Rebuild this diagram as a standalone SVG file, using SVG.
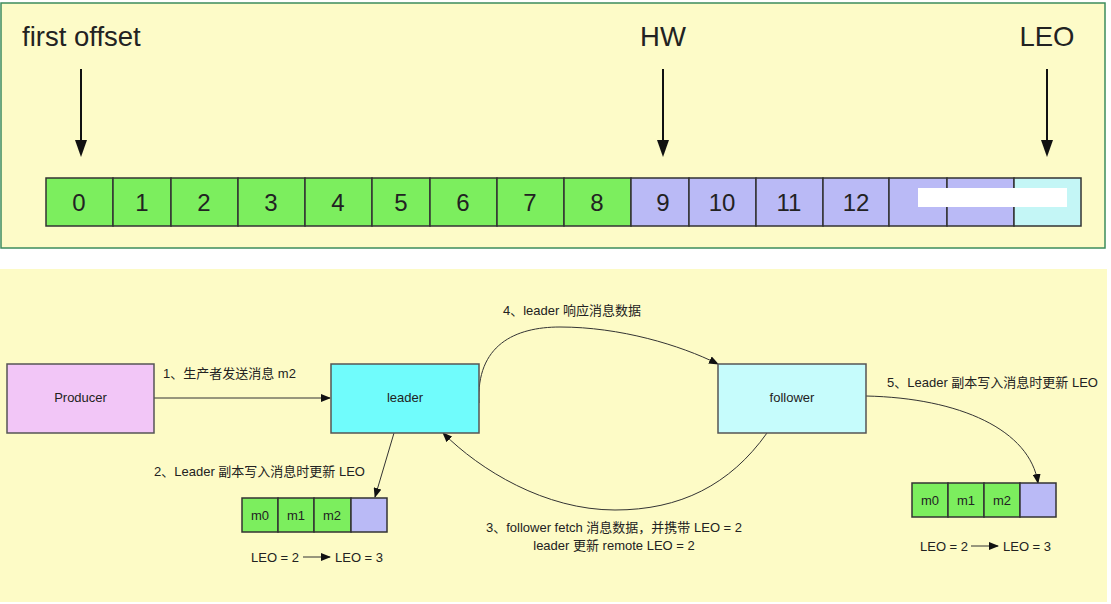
<svg xmlns="http://www.w3.org/2000/svg" width="1111" height="604" viewBox="0 0 1111 604">
<defs>
<style>
.big{font-family:"Liberation Sans",Arial,sans-serif;fill:#222;}
.lbl{font-family:"Liberation Sans","Noto Sans CJK SC",sans-serif;font-size:13px;fill:#222;}
.cell{stroke:#333;stroke-width:1.5;}
.g{fill:#7cee5e;}
.p{fill:#babaf6;}
.c{fill:#c4f6f6;}
.node{stroke:#555;stroke-width:1.5;}
.conn{fill:none;stroke:#333;stroke-width:1;}
.bigarrow{stroke:#111;stroke-width:2;}
</style>
<marker id="ah" markerWidth="10" markerHeight="8" refX="9" refY="4" orient="auto" markerUnits="userSpaceOnUse">
<path d="M0,0 L10,4 L0,8 Z" fill="#111"/>
</marker>
</defs>
<rect width="1111" height="604" fill="#ffffff"/>
<g id="panel-top">
<rect x="1" y="3" width="1104" height="245" fill="#fdfbc8" stroke="#3d8c5c" stroke-width="1.5"/>
<text class="big" x="22" y="46" font-size="27.5">first offset</text>
<text class="big" x="663" y="46" font-size="27.5" text-anchor="middle">HW</text>
<text class="big" x="1047" y="46" font-size="27.5" text-anchor="middle">LEO</text>
<line class="bigarrow" x1="81" y1="69" x2="81" y2="142"/>
<path d="M75,140 L87,140 L81,157 Z" fill="#111"/>
<line class="bigarrow" x1="663" y1="69" x2="663" y2="142"/>
<path d="M657,140 L669,140 L663,157 Z" fill="#111"/>
<line class="bigarrow" x1="1047" y1="69" x2="1047" y2="142"/>
<path d="M1041,140 L1053,140 L1047,157 Z" fill="#111"/>
</g>
<g id="log-cells">
<rect class="cell g" x="46" y="178" width="67" height="48"/>
<rect class="cell g" x="113" y="178" width="58" height="48"/>
<rect class="cell g" x="171" y="178" width="67" height="48"/>
<rect class="cell g" x="238" y="178" width="67" height="48"/>
<rect class="cell g" x="305" y="178" width="67" height="48"/>
<rect class="cell g" x="372" y="178" width="58" height="48"/>
<rect class="cell g" x="430" y="178" width="67" height="48"/>
<rect class="cell g" x="497" y="178" width="67" height="48"/>
<rect class="cell g" x="564" y="178" width="67" height="48"/>
<rect class="cell p" x="631" y="178" width="58" height="48"/>
<rect class="cell p" x="689" y="178" width="67" height="48"/>
<rect class="cell p" x="756" y="178" width="67" height="48"/>
<rect class="cell p" x="823" y="178" width="66" height="48"/>
<rect class="cell p" x="889" y="178" width="58" height="48"/>
<rect class="cell p" x="947" y="178" width="67" height="48"/>
<rect class="cell c" x="1014" y="178" width="67" height="48"/>
<g class="big" font-size="24" text-anchor="middle">
<text x="79" y="211">0</text>
<text x="142" y="211">1</text>
<text x="204" y="211">2</text>
<text x="271" y="211">3</text>
<text x="338" y="211">4</text>
<text x="401" y="211">5</text>
<text x="463" y="211">6</text>
<text x="530" y="211">7</text>
<text x="597" y="211">8</text>
<text x="663" y="211">9</text>
<text x="722" y="211">10</text>
<text x="789" y="211">11</text>
<text x="856" y="211">12</text>
</g>
<rect x="918" y="188" width="149" height="19" fill="#ffffff"/>
</g>
<rect x="0" y="269" width="1107" height="333" fill="#fdfbc6"/>
<g id="connectors">
<line class="conn" x1="154" y1="398" x2="330" y2="398" marker-end="url(#ah)"/>
<line class="conn" x1="394" y1="433" x2="375" y2="497" marker-end="url(#ah)"/>
<path class="conn" d="M479,403 C476,345 515,327 560,327 C620,327 680,345 718,364" marker-end="url(#ah)"/>
<path class="conn" d="M767,433 C730,485 680,510 615,510 C545,510 480,470 443,433" marker-end="url(#ah)"/>
<path class="conn" d="M866,396 C960,398 1030,430 1038,483" marker-end="url(#ah)"/>
<line class="conn" x1="303" y1="557" x2="330" y2="557" marker-end="url(#ah)"/>
<line class="conn" x1="971" y1="546" x2="998" y2="546" marker-end="url(#ah)"/>
</g>
<g id="producer">
<rect class="node" x="7" y="364" width="147" height="69" fill="#f2c6f7"/>
<text class="lbl" x="80.5" y="402" text-anchor="middle">Producer</text>
</g>
<g id="leader">
<rect class="node" x="331" y="364" width="148" height="69" fill="#70fcfc"/>
<text class="lbl" x="405" y="402" text-anchor="middle">leader</text>
</g>
<g id="follower">
<rect class="node" x="718" y="364" width="148" height="69" fill="#c6fcfc"/>
<text class="lbl" x="792" y="402" text-anchor="middle">follower</text>
</g>
<g id="leader-log">
<rect class="cell g" x="242" y="498" width="36" height="34"/>
<rect class="cell g" x="278" y="498" width="36" height="34"/>
<rect class="cell g" x="314" y="498" width="37" height="34"/>
<rect class="cell p" x="351" y="498" width="36" height="34"/>
<text class="lbl" x="260" y="519.5" text-anchor="middle">m0</text>
<text class="lbl" x="296" y="519.5" text-anchor="middle">m1</text>
<text class="lbl" x="332" y="519.5" text-anchor="middle">m2</text>
<text class="lbl" x="251" y="561.5">LEO = 2</text>
<text class="lbl" x="335" y="561.5">LEO = 3</text>
</g>
<g id="follower-log">
<rect class="cell g" x="912" y="483" width="36" height="34"/>
<rect class="cell g" x="948" y="483" width="36" height="34"/>
<rect class="cell g" x="984" y="483" width="36" height="34"/>
<rect class="cell p" x="1020" y="483" width="36" height="34"/>
<text class="lbl" x="930" y="504.5" text-anchor="middle">m0</text>
<text class="lbl" x="966" y="504.5" text-anchor="middle">m1</text>
<text class="lbl" x="1002" y="504.5" text-anchor="middle">m2</text>
<text class="lbl" x="920" y="550.5">LEO = 2</text>
<text class="lbl" x="1003" y="550.5">LEO = 3</text>
</g>
<g id="labels">
<text class="lbl" x="163" y="378">1、生产者发送消息 m2</text>
<text class="lbl" x="154" y="476">2、Leader 副本写入消息时更新 LEO</text>
<text class="lbl" x="503" y="315">4、leader 响应消息数据</text>
<text class="lbl" x="887" y="387">5、Leader 副本写入消息时更新 LEO</text>
<text class="lbl" x="614" y="532" text-anchor="middle">3、follower fetch 消息数据，并携带 LEO = 2</text>
<text class="lbl" x="614" y="550" text-anchor="middle">leader 更新 remote LEO = 2</text>
</g>
</svg>
